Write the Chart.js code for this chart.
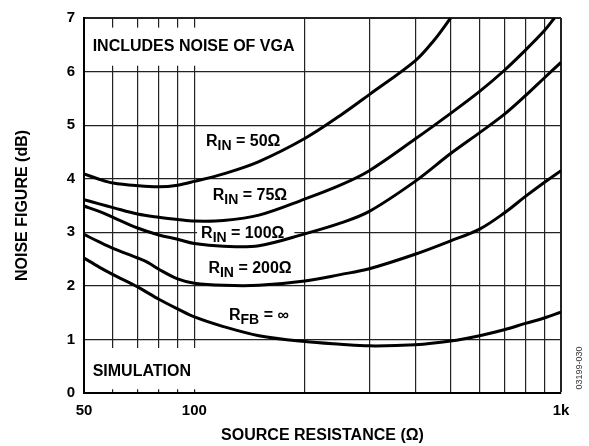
<!DOCTYPE html>
<html><head><meta charset="utf-8">
<script src="https://cdn.jsdelivr.net/npm/chart.js@4.4.1/dist/chart.umd.min.js"></script>
<style>html,body{margin:0;padding:0;background:#fff}#wrap{width:589px;height:446px;position:relative}</style>
</head><body><div id="wrap"><canvas id="c" width="589" height="446"></canvas></div>
<script>
// ---- data ----
const xTickValues = [50, 60, 70, 80, 90, 100, 200, 300, 400, 500, 600, 700, 800, 900, 1000];
const xTickLabels = {50: '50', 100: '100', 1000: '1k'};
const yTickValues = [0, 1, 2, 3, 4, 5, 6, 7];

const rin50X  = [50, 55, 60, 70, 80, 90, 100, 120, 150, 200, 250, 300, 400, 450, 500];
const rin50Y  = [4.09, 3.99, 3.92, 3.87, 3.85, 3.88, 3.95, 4.09, 4.32, 4.75, 5.18, 5.57, 6.20, 6.58, 7.00];
const rin75X  = [50, 55, 60, 70, 80, 90, 100, 120, 150, 200, 250, 300, 400, 500, 600, 700, 800, 900, 960];
const rin75Y  = [3.61, 3.53, 3.46, 3.34, 3.28, 3.24, 3.21, 3.22, 3.32, 3.62, 3.88, 4.15, 4.74, 5.22, 5.63, 6.02, 6.40, 6.76, 7.00];
const rin100X = [50, 55, 60, 70, 80, 90, 100, 120, 150, 200, 250, 300, 400, 500, 600, 700, 800, 900, 1000];
const rin100Y = [3.49, 3.39, 3.28, 3.08, 2.95, 2.87, 2.79, 2.74, 2.75, 2.97, 3.17, 3.39, 3.95, 4.47, 4.86, 5.20, 5.55, 5.88, 6.17];
const rin200X = [50, 55, 60, 70, 75, 80, 90, 100, 120, 150, 200, 250, 300, 400, 500, 600, 700, 800, 900, 1000];
const rin200Y = [2.96, 2.82, 2.70, 2.52, 2.43, 2.31, 2.13, 2.05, 2.01, 2.01, 2.09, 2.21, 2.32, 2.59, 2.84, 3.06, 3.36, 3.67, 3.93, 4.15];
const rfbX    = [50, 55, 60, 70, 80, 90, 100, 120, 150, 200, 250, 300, 400, 500, 600, 700, 800, 900, 1000];
const rfbY    = [2.52, 2.35, 2.21, 1.98, 1.75, 1.57, 1.42, 1.24, 1.07, 0.96, 0.91, 0.88, 0.90, 0.97, 1.07, 1.18, 1.30, 1.40, 1.51];

const curveLabels = [
  {main: 'R', sub: 'IN', rest: ' = 50Ω',  r: 107.6, v: 4.615},
  {main: 'R', sub: 'IN', rest: ' = 75Ω',  r: 112.2, v: 3.596},
  {main: 'R', sub: 'IN', rest: ' = 100Ω', r: 104.3, v: 2.899, box: true},
  {main: 'R', sub: 'IN', rest: ' = 200Ω', r: 109.2, v: 2.239},
  {main: 'R', sub: 'FB', rest: ' = ∞',    r: 124.3, v: 1.367}
];
const notes = [
  {text: 'INCLUDES NOISE OF VGA', r: 52.8, v: 6.385},
  {text: 'SIMULATION', r: 52.8, v: 0.325}
];

// ---- style ----
const FONT = '"Liberation Sans", Arial, Helvetica, sans-serif';
const MAIN = 'bold 16px ' + FONT;
const SUB = 'bold 14px ' + FONT;

function pts(xs, ys) { return xs.map((x, i) => ({x: x, y: ys[i]})); }
function ds(xs, ys) {
  return {data: pts(xs, ys), borderColor: '#000', borderWidth: 3, pointRadius: 0,
          tension: 0.35, fill: false};
}

function drawSubLabel(ctx, x, y, L, draw) {
  ctx.font = MAIN; const w1 = ctx.measureText(L.main).width;
  ctx.font = SUB;  const w2 = ctx.measureText(L.sub).width;
  ctx.font = MAIN; const w3 = ctx.measureText(L.rest).width;
  if (draw) {
    ctx.textBaseline = 'alphabetic'; ctx.textAlign = 'left'; ctx.fillStyle = '#000';
    ctx.font = MAIN; ctx.fillText(L.main, x, y);
    ctx.font = SUB;  ctx.fillText(L.sub, x + w1, y + 4);
    ctx.font = MAIN; ctx.fillText(L.rest, x + w1 + w2, y);
  }
  return w1 + w2 + w3;
}

const annot = {
  id: 'annot',
  beforeDatasetsDraw(chart) {
    const {ctx, chartArea: a, scales: {x, y}} = chart;
    ctx.save();
    ctx.fillStyle = '#fff';
    const bx = a.left + 2, bw = x.getPixelForValue(190) - bx;
    ctx.fillRect(bx, y.getPixelForValue(6.82), bw, y.getPixelForValue(6.11) - y.getPixelForValue(6.82));
    ctx.fillRect(bx, y.getPixelForValue(0.84), bw, y.getPixelForValue(0.07) - y.getPixelForValue(0.84));
    curveLabels.forEach(L => {
      if (!L.box) return;
      const px = x.getPixelForValue(L.r), py = y.getPixelForValue(L.v);
      const w = drawSubLabel(ctx, px, py, L, false);
      ctx.fillStyle = '#fff';
      ctx.fillRect(px - 4, py - 13, w + 14, 19);
    });
    ctx.restore();
  },
  afterDatasetsDraw(chart) {
    const {ctx, scales: {x, y}} = chart;
    ctx.save();
    curveLabels.forEach(L => drawSubLabel(ctx, x.getPixelForValue(L.r), y.getPixelForValue(L.v), L, true));
    ctx.font = MAIN; ctx.fillStyle = '#000'; ctx.textAlign = 'left'; ctx.textBaseline = 'alphabetic';
    notes.forEach(n => ctx.fillText(n.text, x.getPixelForValue(n.r), y.getPixelForValue(n.v)));
    // figure code
    ctx.translate(580, 368); ctx.rotate(-Math.PI / 2);
    ctx.font = '9px ' + FONT; ctx.fillStyle = '#333'; ctx.textAlign = 'center'; ctx.textBaseline = 'middle';
    ctx.fillText('03199-030', 0, 0);
    ctx.restore();
  }
};

new Chart(document.getElementById('c'), {
  type: 'line',
  data: {datasets: [ds(rin50X, rin50Y), ds(rin75X, rin75Y), ds(rin100X, rin100Y), ds(rin200X, rin200Y), ds(rfbX, rfbY)]},
  options: {
    responsive: false, animation: false, devicePixelRatio: 1,
    layout: {padding: {left: 0, right: 28, top: 12, bottom: 0}},
    plugins: {legend: {display: false}, tooltip: {enabled: false}},
    scales: {
      x: {
        type: 'logarithmic', min: 50, max: 1000,
        afterBuildTicks: s => { s.ticks = xTickValues.map(v => ({value: v})); },
        afterFit: s => { s.height = 53; },
        ticks: {autoSkip: false, maxRotation: 0, padding: 9, color: '#000',
                font: {family: FONT, size: 15, weight: 'bold'},
                callback: v => xTickLabels[v] || ''},
        grid: {drawTicks: false, color: '#222', lineWidth: c => (c.tick && c.tick.value === 1000) ? 2 : 1.2},
        border: {display: true, color: '#000', width: 2},
        title: {display: true, text: 'SOURCE RESISTANCE (Ω)', color: '#000',
                font: {family: FONT, size: 16, weight: 'bold'}, padding: {top: 0, bottom: 1}}
      },
      y: {
        type: 'linear', min: 0, max: 7,
        afterBuildTicks: s => { s.ticks = yTickValues.map(v => ({value: v})); },
        afterFit: s => { s.width = 84; },
        ticks: {padding: 9, color: '#000', font: {family: FONT, size: 15, weight: 'bold'}},
        grid: {drawTicks: false, color: '#222', lineWidth: c => (c.tick && c.tick.value === 7) ? 2 : 1.2},
        border: {display: true, color: '#000', width: 2},
        title: {display: true, text: 'NOISE FIGURE (dB)', color: '#000',
                font: {family: FONT, size: 16, weight: 'bold'}, padding: {top: 13, bottom: 0}}
      }
    }
  },
  plugins: [annot]
});
</script></body></html>
